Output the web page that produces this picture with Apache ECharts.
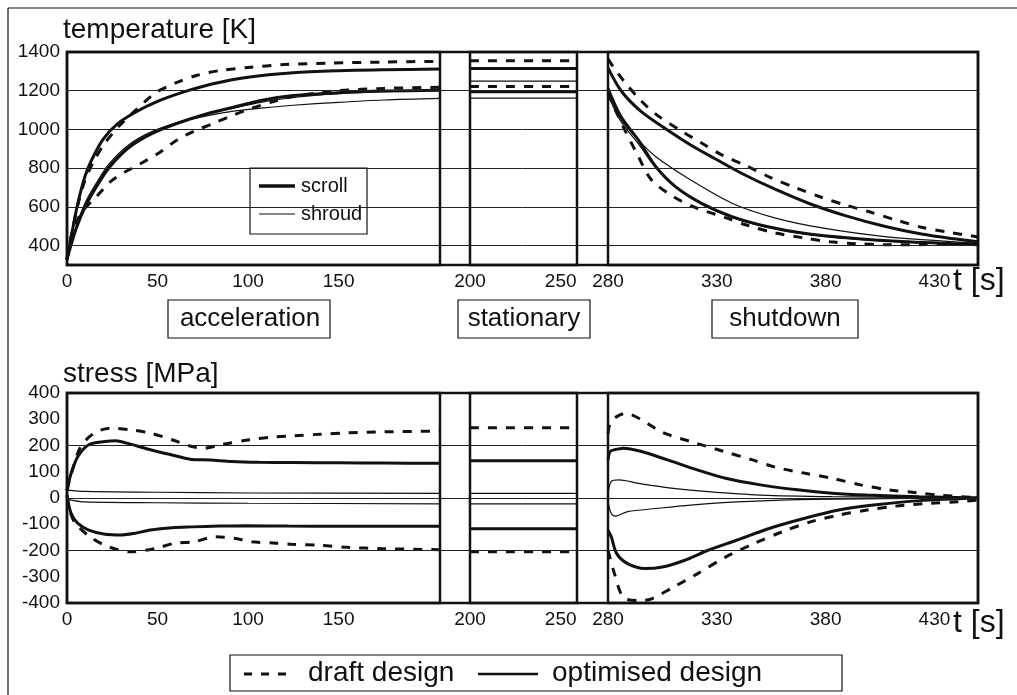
<!DOCTYPE html>
<html><head><meta charset="utf-8">
<script src="https://cdn.jsdelivr.net/npm/echarts@6/dist/echarts.min.js"></script>
<style>html,body{margin:0;padding:0;background:#fff}#c{width:1017px;height:695px}</style>
</head><body><div id="c"></div>
<script>
// ---------- DATA ----------
// time-axis segments: acceleration, stationary, shutdown
const segRanges = [[0, 206], [200, 259], [280, 450]];
const segTickLabels = [[0, 50, 100, 150], [200, 250], [280, 330, 380, 430]];
const tempGridValues = [400, 600, 800, 1000, 1200];
const stressGridValues = [-200, 0, 200];

// temperature [K]
const tempUpperDraftAcc = [[0,330],[3,480],[6,610],[10,740],[15,840],[21,930],[29,1020],[38,1100],[49,1190],[60,1240],[72,1280],[85,1305],[100,1320],[120,1335],[145,1343],[175,1348],[206,1352]];
const tempUpperDraftSta = [[200,1355],[259,1355]];
const tempUpperDraftShu = [[280,1365],[282,1330],[287,1254],[295,1150],[303,1070],[314,990],[323,930],[332,870],[344,810],[355,750],[366,700],[378,650],[389,610],[400,575],[413,530],[424,495],[436,470],[450,445]];

const tempUpperOptAcc = [[0,330],[3,480],[6,620],[10,760],[14,850],[20,950],[28,1030],[38,1090],[50,1145],[65,1195],[80,1235],[100,1270],[125,1293],[150,1303],[175,1308],[206,1312]];
const tempUpperOptSta = [[200,1315],[259,1315]];
const tempUpperOptShu = [[280,1318],[286,1200],[295,1095],[307,1000],[318,920],[329,850],[342,770],[357,690],[373,615],[389,555],[407,500],[424,460],[439,435],[450,420]];

const tempLowerDraftAcc = [[0,330],[3,468],[8,571],[16,650],[24,730],[32,780],[40,820],[51,880],[61,947],[70,990],[81,1032],[92,1075],[102,1109],[114,1144],[125,1170],[150,1200],[175,1212],[206,1218]];
const tempLowerDraftSta = [[200,1222],[259,1222]];
const tempLowerDraftShu = [[280,1190],[283,1110],[287,1014],[294,859],[300,739],[310,653],[321,593],[334,545],[344,505],[357,465],[370,440],[382,420],[394,410],[407,405],[423,405],[450,410]];

const tempLowerOptAcc = [[0,330],[5,486],[10,600],[16,700],[23,800],[34,905],[46,975],[61,1032],[77,1080],[92,1115],[107,1150],[125,1175],[150,1190],[175,1198],[206,1202]];
const tempLowerOptSta = [[200,1195],[259,1195]];
const tempLowerOptShu = [[280,1211],[286,1065],[294,945],[302,808],[311,705],[323,619],[337,550],[353,499],[370,464],[391,439],[415,421],[450,405]];

const tempThinAAcc = [[0,330],[5,500],[10,620],[16,720],[23,820],[34,920],[46,985],[61,1035],[77,1070],[92,1095],[107,1110],[125,1125],[150,1140],[175,1152],[206,1160]];
const tempThinASta = [[200,1162],[259,1162]];
const tempThinAShu = [[280,1194],[286,1050],[294,945],[302,859],[318,739],[337,619],[357,542],[379,490],[407,447],[450,413]];

const tempThinBAcc = [[0,330],[5,490],[10,610],[16,710],[23,810],[34,912],[46,980],[61,1035],[77,1080],[92,1110],[107,1140],[125,1165],[150,1185],[175,1195],[206,1200]];
const tempThinBSta = [[200,1250],[259,1250]];
const tempThinBShu = [[280,1177],[286,1040],[294,925],[302,800],[311,700],[323,612],[337,545],[353,495],[370,460],[391,436],[415,419],[450,404]];

// stress [MPa]
const stressUpperDraftAcc = [[0,30],[3,107],[7.6,196],[15,247],[24,266],[35,260],[46,247],[58,222],[69,196],[76,190],[85,203],[101,222],[114,232],[125,237],[140,243],[155,248],[175,252],[206,255]];
const stressUpperDraftSta = [[200,268],[259,268]];
const stressUpperDraftShu = [[280,245],[281,285],[284,310],[288,322],[295,300],[305,250],[318,215],[333,178],[346,146],[357,117],[370,95],[383,75],[396,50],[409,31],[422,20],[432,11],[450,1]];

const stressUpperOptAcc = [[0,30],[2.3,94],[6,158],[12,203],[21,215],[27,218],[33,209],[45,186],[58,164],[68,148],[79,145],[91,139],[106,136],[125,135],[150,134],[175,133],[206,132]];
const stressUpperOptSta = [[200,142],[259,142]];
const stressUpperOptShu = [[280,146],[281,177],[283,184],[287,190],[295,178],[307,146],[321,107],[334,75],[350,50],[367,31],[383,18],[399,11],[423,5],[450,0]];

const stressThinUpAcc = [[0,30],[10,25],[50,22],[100,19],[206,18]];
const stressThinUpSta = [[200,18],[259,18]];
const stressThinUpShu = [[280,14],[281.5,63],[285,69],[294,56],[310,37],[326,24],[350,11],[383,5],[450,0]];

const stressThinLowAcc = [[0,-5],[10,-15],[50,-18],[100,-20],[206,-22]];
const stressThinLowSta = [[200,-22],[259,-22]];
const stressThinLowShu = [[280,-14],[281.5,-59],[283.5,-69],[289,-52],[302,-40],[318,-27],[342,-14],[375,-5],[450,0]];

const stressLowerOptAcc = [[0,10],[2.3,-59],[6,-97],[12,-122],[21,-138],[30,-141],[37,-135],[46,-122],[58,-113],[69,-110],[84,-107],[99,-106],[122,-107],[150,-108],[206,-108]];
const stressLowerOptSta = [[200,-117],[259,-117]];
const stressLowerOptShu = [[280,-123],[281.5,-148],[284,-212],[289,-250],[297,-269],[305,-263],[315,-238],[326,-199],[339,-161],[354,-116],[370,-78],[386,-46],[402,-27],[423,-10],[450,0]];

const stressLowerDraftAcc = [[0,10],[1.5,-46],[4.6,-97],[14,-154],[23,-186],[35,-205],[49,-192],[59,-173],[70,-167],[82,-148],[93,-154],[102,-167],[114,-171],[124,-176],[140,-180],[155,-188],[175,-193],[206,-197]];
const stressLowerDraftSta = [[200,-205],[259,-205]];
const stressLowerDraftShu = [[280,-200],[281,-230],[283,-289],[287,-378],[294,-391],[300,-384],[310,-340],[321,-289],[334,-225],[347,-174],[360,-129],[373,-91],[386,-65],[399,-46],[412,-31],[428,-20],[441,-14],[450,-8]];

// ---------- CHART ----------
const FONT = '"Liberation Sans", Arial, Helvetica, sans-serif';
const INK = '#111';
const segPx = [[67, 440], [470, 577], [608, 978]];
const panels = [
  { top: 52, bottom: 265, min: 300, max: 1400, interval: 100, fmt: v => (v % 200 === 0 ? String(v) : ''), grid: tempGridValues,
    curves: [
      [tempUpperDraftAcc, tempUpperDraftSta, tempUpperDraftShu, 'dash'],
      [tempUpperOptAcc, tempUpperOptSta, tempUpperOptShu, 'thick'],
      [tempLowerDraftAcc, tempLowerDraftSta, tempLowerDraftShu, 'dash'],
      [tempLowerOptAcc, tempLowerOptSta, tempLowerOptShu, 'thick'],
      [tempThinAAcc, tempThinASta, tempThinAShu, 'thin'],
      [tempThinBAcc, tempThinBSta, tempThinBShu, 'thin']
    ] },
  { top: 393, bottom: 603, min: -400, max: 400, interval: 100, fmt: v => String(v), grid: stressGridValues,
    curves: [
      [stressUpperDraftAcc, stressUpperDraftSta, stressUpperDraftShu, 'dash'],
      [stressUpperOptAcc, stressUpperOptSta, stressUpperOptShu, 'thick'],
      [stressThinUpAcc, stressThinUpSta, stressThinUpShu, 'thin'],
      [stressThinLowAcc, stressThinLowSta, stressThinLowShu, 'thin'],
      [stressLowerOptAcc, stressLowerOptSta, stressLowerOptShu, 'thick'],
      [stressLowerDraftAcc, stressLowerDraftSta, stressLowerDraftShu, 'dash']
    ] }
];
const styles = {
  dash: { width: 3, type: [9, 9], cap: 'butt' },
  thick: { width: 3, type: 'solid' },
  thin: { width: 1.2, type: 'solid' }
};

const grids = [], xAxes = [], yAxes = [], series = [];
panels.forEach(p => {
  const bg = grids.length;
  grids.push({ left: 67, top: p.top, width: 978 - 67, height: p.bottom - p.top, show: true,
    borderColor: INK, borderWidth: 2.5, backgroundColor: 'transparent', containLabel: false });
  xAxes.push({ gridIndex: bg, type: 'value', min: 0, max: 1, show: false });
  yAxes.push({ gridIndex: bg, type: 'value', min: p.min, max: p.max, interval: p.interval,
    axisLine: { show: false }, axisTick: { show: false }, splitLine: { show: false },
    axisLabel: { formatter: p.fmt, fontSize: 19, fontFamily: FONT, color: INK, margin: 7 } });
  series.push({ type: 'line', xAxisIndex: bg, yAxisIndex: bg, data: [], z: 1, silent: true,
    markLine: { silent: true, symbol: ['none', 'none'], label: { show: false }, animation: false,
      lineStyle: { color: '#222', width: 1, type: 'solid' },
      data: p.grid.map(v => ({ yAxis: v })) } });
  segPx.forEach((px, s) => {
    const gi = grids.length;
    grids.push({ left: px[0], top: p.top, width: px[1] - px[0], height: p.bottom - p.top, show: true,
      borderColor: INK, borderWidth: 2.5, backgroundColor: 'transparent' });
    xAxes.push({ gridIndex: gi, type: 'value', min: segRanges[s][0], max: segRanges[s][1],
      axisLine: { show: false }, axisTick: { show: false }, splitLine: { show: false },
      axisLabel: { customValues: segTickLabels[s], fontSize: 19, fontFamily: FONT, color: INK, margin: 7 } });
    yAxes.push({ gridIndex: gi, type: 'value', min: p.min, max: p.max, show: false });
    p.curves.forEach(c => {
      series.push({ type: 'line', xAxisIndex: gi, yAxisIndex: gi, data: c[s], symbol: 'none',
        smooth: 0.3, silent: true, z: 3, clip: true,
        lineStyle: Object.assign({ color: INK }, styles[c[3]]) });
    });
  });
});

function txt(x, y, text, size, align) {
  return { type: 'text', x: x, y: y, silent: true,
    style: { text: text, fontSize: size, fontFamily: FONT, fill: INK, align: align || 'left', verticalAlign: 'middle' } };
}
function rect(x, y, w, h, lw) {
  return { type: 'rect', silent: true, shape: { x: x, y: y, width: w, height: h },
    style: { fill: '#fff', stroke: INK, lineWidth: lw || 1.2 } };
}
function line(x1, y1, x2, y2, lw, dash) {
  return { type: 'line', silent: true, shape: { x1: x1, y1: y1, x2: x2, y2: y2 },
    style: { stroke: INK, lineWidth: lw, lineDash: dash || null } };
}
const graphic = [
  line(8, 8, 1017, 8, 1.2), line(8, 8, 8, 695, 1.2),
  txt(63, 30, 'temperature [K]', 28),
  txt(63, 374, 'stress [MPa]', 28),
  txt(953, 281, 't [s]', 32), txt(953, 623, 't [s]', 32),
  rect(250, 168, 117, 66, 1.2),
  line(259, 186, 295, 186, 3.5), txt(301, 186, 'scroll', 20),
  line(259, 214, 295, 214, 1.2), txt(301, 214, 'shroud', 20),
  rect(168, 300, 162, 38, 1.2), txt(250, 319, 'acceleration', 26, 'center'),
  rect(458, 300, 132, 38, 1.2), txt(524, 319, 'stationary', 26, 'center'),
  rect(712, 300, 146, 38, 1.2), txt(785, 319, 'shutdown', 26, 'center'),
  rect(230, 655, 612, 36, 1.2),
  line(244, 674, 292, 674, 3, [8, 9]), txt(308, 673, 'draft design', 28),
  line(478, 674, 538, 674, 2.5), txt(552, 673, 'optimised design', 28)
];

const chart = echarts.init(document.getElementById('c'));
chart.setOption({ animation: false, backgroundColor: '#fff', grid: grids, xAxis: xAxes, yAxis: yAxes, series: series, graphic: graphic });
</script></body></html>
